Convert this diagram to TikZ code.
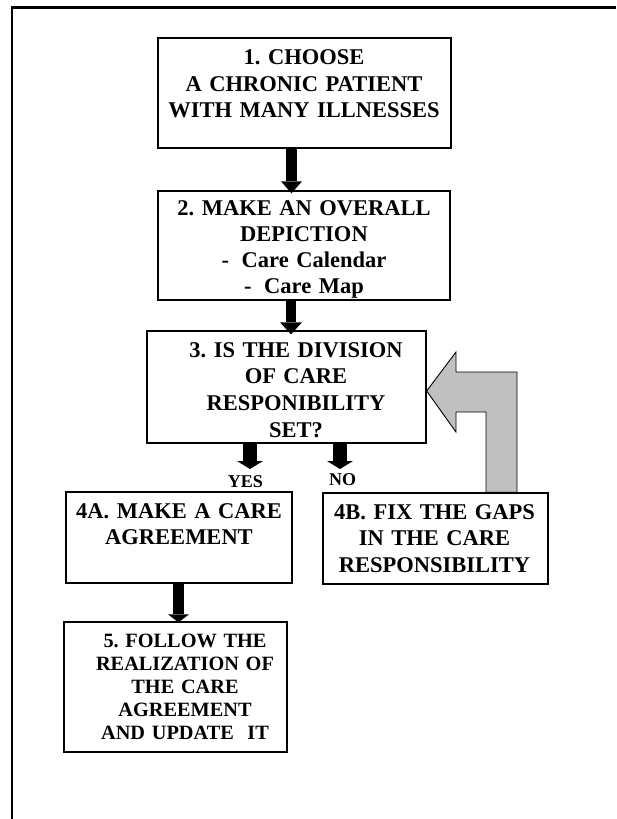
\documentclass[tikz,border=0pt]{standalone}
\usepackage{fontspec}
\setmainfont{Liberation Serif}
\usetikzlibrary{arrows.meta}
\frenchspacing
\begin{document}
\begin{tikzpicture}[x=1pt,y=-1pt,
  box/.style={draw=black, line width=1.3pt, inner sep=0pt},
  txt/.style={inner sep=0pt, text width=320pt, align=center, anchor=base},
  blkA/.style={line width=11pt, -{Triangle[width=21pt,length=12pt,line width=0pt]}},
  blkB/.style={line width=14pt, -{Triangle[width=26pt,length=8pt,line width=0pt]}},
  blkC/.style={line width=11pt, -{Triangle[width=21pt,length=8pt,line width=0pt]}},
  lbl/.style={inner sep=0pt, anchor=base, font=\bfseries\fontsize{18}{20}\selectfont}]
\useasboundingbox (0,0) rectangle (616,819);
% outer frame
\draw[line width=2.5pt] (12,819) -- (12,7.5) -- (616,7.5);
% boxes
\node[box, minimum width=293pt, minimum height=110pt] (b1) at (304.5,93) {};
\node[box, minimum width=292pt, minimum height=109pt] (b2) at (304,245.5) {};
\node[box, minimum width=279pt, minimum height=112pt] (b3) at (286.5,387) {};
\node[box, minimum width=226pt, minimum height=91pt] (b4a) at (179,537.5) {};
\node[box, minimum width=225pt, minimum height=91pt] (b4b) at (435.5,538.5) {};
\node[box, minimum width=223pt, minimum height=130pt] (b5) at (175.5,687) {};
% texts
\node[txt, font=\bfseries\fontsize{22.5}{26.5}\selectfont] (t1) at (304,64.5)
  {1. CHOOSE\\A CHRONIC PATIENT\\WITH MANY ILLNESSES};
\node[txt, font=\bfseries\fontsize{22.5}{26}\selectfont] (t2) at (304,215.5)
  {2. MAKE AN OVERALL\\DEPICTION\\-\hspace{12.5pt}Care Calendar\\-\hspace{12.5pt}Care Map};
\node[txt, font=\bfseries\fontsize{22.5}{26.7}\selectfont] (t3) at (296,357)
  {3. IS THE DIVISION\\OF CARE\\RESPONIBILITY\\SET?};
\node[txt, font=\bfseries\fontsize{22.5}{26}\selectfont] (t4a) at (179,518)
  {4A. MAKE A CARE\\AGREEMENT};
\node[txt, font=\bfseries\fontsize{22.5}{26.5}\selectfont] (t4b) at (434.5,519)
  {4B. FIX THE GAPS\\IN THE CARE\\RESPONSIBILITY};
\node[txt, font=\bfseries\fontsize{20.3}{23}\selectfont] (t5) at (185,647)
  {5. FOLLOW THE\\REALIZATION OF\\THE CARE\\AGREEMENT\\AND UPDATE~~IT};
% arrow coordinates
\coordinate (c12) at (291.5,0);
\coordinate (c23) at (291,0);
\coordinate (yesend) at (250,469);
\coordinate (noend) at (340,469);
\coordinate (c45) at (178.5,0);
% black block arrows
\draw[blkA] (b1.south -| c12) -- ([yshift=-3pt]b2.north -| c12);
\draw[blkA, line width=10pt, -{Triangle[width=22pt,length=12pt,line width=0pt]}] (b2.south -| c23) -- ([yshift=-4pt]b3.north -| c23);
\draw[blkB] (b3.south -| yesend) -- (yesend);
\draw[blkB] (b3.south -| noend) -- (noend);
\draw[blkC] (b4a.south -| c45) -- ([yshift=-1pt]b5.north -| c45);
% labels
\node[lbl] (yes) at (245.5,487.7) {YES};
\node[lbl] (no) at (342.5,485.7) {NO};
% gray feedback arrow
\draw[fill={rgb,255:red,192;green,192;blue,192}, draw=black, line width=0.9pt, line join=miter]
  (b3.east |- 0,391) -- (456,352) -- (456,372) -- (517,372) -- (517,0 |- b4b.north)
  -- (486,0 |- b4b.north) -- (486,412) -- (456,412) -- (456,432) -- cycle;
\end{tikzpicture}
\end{document}
